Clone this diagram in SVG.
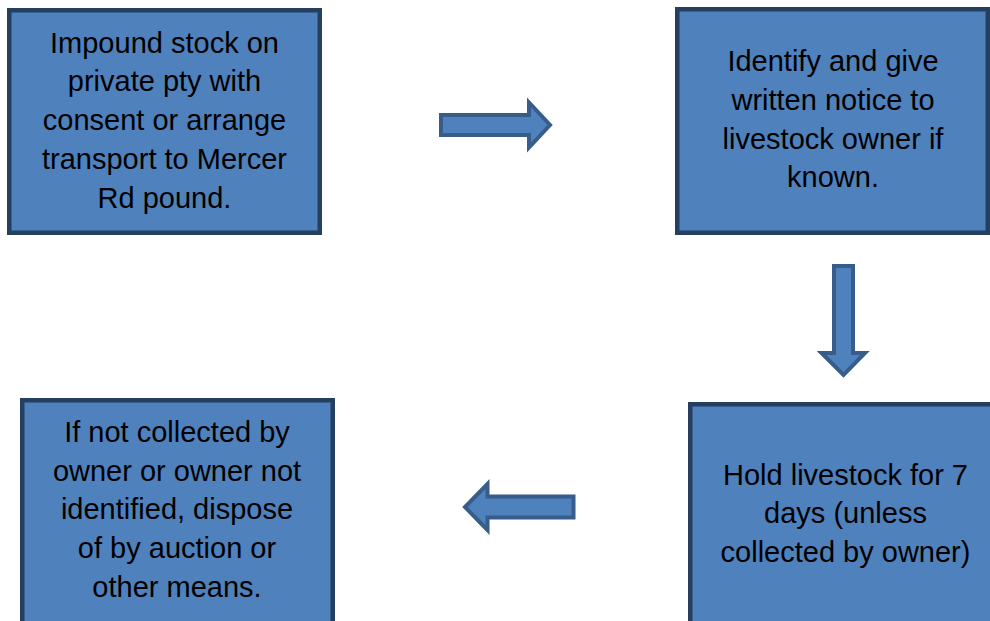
<svg xmlns="http://www.w3.org/2000/svg" width="990" height="621" viewBox="0 0 990 621">
<style>
.box{fill:#4F81BD;stroke:#243F60;stroke-width:4.5}
.arr{fill:#4F81BD;stroke:#385D8A;stroke-width:4;stroke-linejoin:miter}
text{font-family:"Liberation Sans",Arial,sans-serif;font-size:29px;fill:#000;text-anchor:middle}
</style>
<rect width="990" height="621" fill="#fff"/>
<g id="node1">
<rect class="box" x="9.25" y="10.25" width="310.5" height="222.5"/>
<text x="164.5" y="52.5">Impound stock on</text>
<text x="164.5" y="91.3">private pty with</text>
<text x="164.5" y="130">consent or arrange</text>
<text x="164.5" y="169">transport to Mercer</text>
<text x="164.5" y="208">Rd pound.</text>
</g>
<g id="node2">
<rect class="box" x="677.25" y="9.25" width="310.5" height="223.5"/>
<text x="833" y="71">Identify and give</text>
<text x="833" y="110">written notice to</text>
<text x="833" y="148.5">livestock owner if</text>
<text x="833" y="187">known.</text>
</g>
<g id="node3">
<rect class="box" x="690.25" y="404.25" width="320" height="300"/>
<text x="845.5" y="484.5">Hold livestock for 7</text>
<text x="845.5" y="523">days (unless</text>
<text x="845.5" y="562">collected by owner)</text>
</g>
<g id="node4">
<rect class="box" x="22.25" y="400.25" width="310.5" height="300"/>
<text x="177" y="441.7">If not collected by</text>
<text x="177" y="480.5">owner or owner not</text>
<text x="177" y="519.2">identified, dispose</text>
<text x="177" y="558">of by auction or</text>
<text x="177" y="596.7">other means.</text>
</g>
<g id="connectors">
<path class="arr" d="M441,115 H529 V102.5 L550,125 L529,147.5 V135 H441 Z"/>
<path class="arr" d="M834,266 V353 H821.5 L843.5,375 L865,353 H853 V266 Z"/>
<path class="arr" d="M573.5,496.5 H487.5 V484 L465,507 L487.5,530 V517.5 H573.5 Z"/>
</g>
</svg>
